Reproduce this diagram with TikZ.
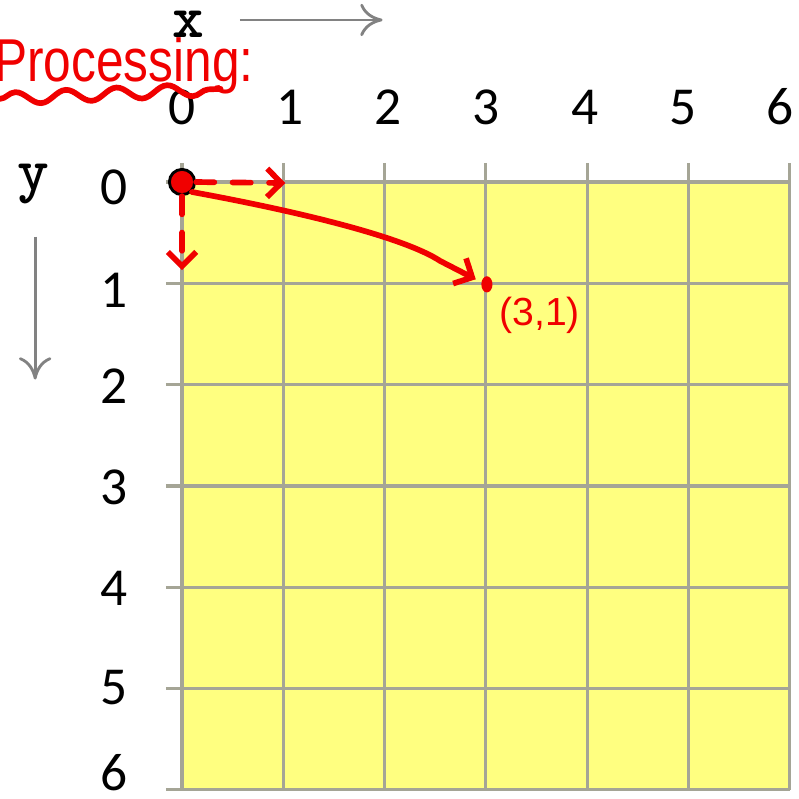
\documentclass[tikz,border=0pt]{standalone}
\usepackage{fontspec}
\newfontfamily\numfont{Carlito}
\newfontfamily\handfont{Liberation Sans}
\usetikzlibrary{arrows.meta,positioning,decorations.pathmorphing,shapes.geometric}
\definecolor{gridyellow}{RGB}{255,255,128}
\definecolor{gridgray}{RGB}{165,165,150}
\definecolor{axgray}{RGB}{130,130,130}
\definecolor{penred}{RGB}{240,0,0}

\begin{document}
\begin{tikzpicture}[x=1cm,y=-1cm,
  ticklbl/.style={font=\numfont\fontsize{15}{15}\selectfont, inner sep=1pt},
  axlbl/.style={font=\ttfamily\bfseries\fontsize{17}{17}\selectfont, anchor=base, inner sep=0pt},
  axarrow/.style={axgray, line width=0.8pt, -{To[length=2.2mm,width=3.2mm]}},
  pen/.style={penred, line width=1.6pt, line cap=round},
  penarrow/.style={pen, -{Straight Barb[length=1.4mm,width=2.8mm]}}]
 \useasboundingbox (-1.797,-1.797) rectangle (6.091,6.091);
 % grid
 \fill[gridyellow] (0,0) rectangle (6,6);
 \foreach \i in {0,...,6}{
   \draw[gridgray, line width=0.9pt] (\i,-0.19) -- (\i,6);
   \draw[gridgray, line width=0.9pt] (-0.16,\i) -- (6,\i);
 }
 \foreach \i/\p in {0/0,1/1.07,2/2.03,3/3,4/3.98,5/4.95,6/5.9}
   \node[ticklbl] (top\i) at (\p,-0.74) {\i};
 \foreach \i/\p in {0/0.05,1/1.07,2/2.02,3/3.01,4/4.01,5/4.99,6/5.83}
   \node[ticklbl] (left\i) at (-0.67,\p) {\i};
 % axes
 \node[axlbl] (xlbl) at (0.06,-1.43) {x};
 \coordinate (xa) at (0.57,-1.6);
 \coordinate (xb) at (1.98,-1.6);
 \draw[axarrow] (xa) -- (xb);
 \node[axlbl] (ylbl) at (-1.47,0.08) {y};
 \coordinate (ya) at (-1.45,0.54);
 \coordinate (yb) at (-1.45,1.95);
 \draw[axarrow] (ya) -- (yb);
 % handwriting
 \node[anchor=base west, penred, inner sep=0pt, xscale=0.82,
   font=\handfont\fontsize{17}{17}\selectfont] (proc) at (-1.86,-0.99) {Processing:};
 \coordinate (ula) at (-1.8,-0.82);
 \coordinate (ulb) at (0.38,-0.92);
 \draw[pen, decorate, decoration={snake, segment length=5mm, amplitude=0.6mm}] (ula) -- (ulb);
 % points
 \node[circle, fill=penred, draw=black, line width=0.8pt, minimum size=2.5mm, inner sep=0pt] (start) at (0,0) {};
 \node[ellipse, fill=penred, minimum width=1.1mm, minimum height=1.6mm, inner sep=0pt] (goal) at (3.01,1.01) {};
 \node[penred, font=\handfont\fontsize{11}{11}\selectfont] (goallbl) at (3.53,1.32) {(3,1)};
 \coordinate (right1) at (1.02,0.01);
 \coordinate (down1) at (0,0.87);
 \draw[penarrow, dashed, dash pattern=on 1.8mm off 1.8mm] (start.east) -- (right1);
 \draw[penarrow, dashed, dash pattern=on 1.8mm off 1.8mm] (start.south) -- (down1);
 \draw[penarrow] (start.south east) .. controls (1.2,0.3) and (2.2,0.55) .. (2.55,0.78) -- (2.9,0.96);
\end{tikzpicture}
\end{document}
